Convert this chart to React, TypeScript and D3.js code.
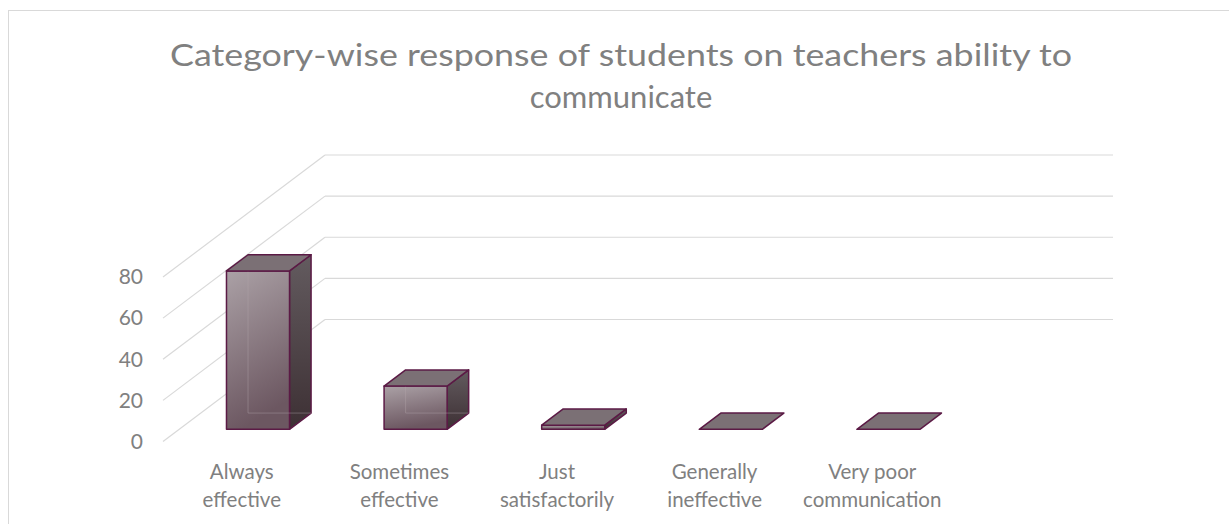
import React from "react";
import * as d3 from "d3";

const categories = ["Always effective", "Sometimes effective", "Just satisfactorily", "Generally ineffective", "Very poor communication"];
const labelLines = [["Always", "effective"], ["Sometimes", "effective"], ["Just", "satisfactorily"], ["Generally", "ineffective"], ["Very poor", "communication"]];
const values = [77, 21, 2, 0, 0];
const yTicks = [0, 20, 40, 60, 80];
const titleLines = ["Category-wise response of students on teachers ability to", "communicate"];

const W = 1229;
const H = 524;
const FONT = "Lato, 'Open Sans', sans-serif";
const TEXT = "#808080";
const GRID = "#d9d9d9";
const STROKE = "#5b1a45";

// oblique projection: depth vector from front of floor to back wall
const DX = 162;
const DY = -122;
const BAR_T0 = 0.1;
const BAR_T1 = 0.233;

export default function App() {
  const x = d3.scaleBand<string>().domain(categories).range([163, 951]).padding(0);
  const y = d3.scaleLinear().domain([0, 80]).range([441.5, 277]);
  const barW = x.bandwidth() * 0.4;

  const pt = (px: number, py: number, t: number) => [px + DX * t, py + DY * t];
  const poly = (pts: number[][]) => pts.map((p) => p.join(",")).join(" ");

  return (
    <svg width={W} height={H} style={{ position: "absolute", left: 0, top: 0, background: "#fff" }}>
      <defs>
        <linearGradient id="frontG" x1="0" y1="0" x2="0.25" y2="1">
          <stop offset="0" stopColor="#aba1a6" />
          <stop offset="1" stopColor="#6c5761" />
        </linearGradient>
        <linearGradient id="sideG" x1="0" y1="0" x2="0" y2="1">
          <stop offset="0" stopColor="#635b5f" />
          <stop offset="1" stopColor="#3d3034" />
        </linearGradient>
      </defs>
      <rect x={8.5} y={10.5} width={1300} height={600} fill="#fff" stroke={GRID} strokeWidth={1} />

      {titleLines.map((t, i) => (
        <text
          key={i}
          x={621}
          y={66 + i * 42}
          textAnchor="middle"
          fontFamily={FONT}
          fontSize={31}
          fill={TEXT}
          {...(i === 0 ? { textLength: 902, lengthAdjust: "spacingAndGlyphs" } : {})}
        >
          {t}
        </text>
      ))}

      {/* gridlines: side wall diagonals + back wall */}
      {yTicks.map((v) => {
        const x0 = 163;
        const y0 = y(v);
        const [x1, y1] = pt(x0, y0, 1);
        return (
          <g key={v}>
            <line x1={x0} y1={y0} x2={x1} y2={y1} stroke={GRID} strokeWidth={1.2} />
            <line x1={x1} y1={y1} x2={951 + DX} y2={y1} stroke={GRID} strokeWidth={1.2} />
          </g>
        );
      })}

      {/* y tick labels */}
      {yTicks.map((v) => (
        <text key={v} x={143} y={y(v)} dy="0.35em" textAnchor="end" fontFamily={FONT} fontSize={21} fill={TEXT}>
          {v}
        </text>
      ))}

      {/* bars */}
      {categories.map((c, i) => {
        const cx = (x(c) as number) + x.bandwidth() / 2;
        const lx = cx - barW / 2;
        const rx = cx + barW / 2;
        const by = y(0);
        const ty = y(values[i]);
        const fBL = pt(lx, by, BAR_T0);
        const fBR = pt(rx, by, BAR_T0);
        const fTL = pt(lx, ty, BAR_T0);
        const fTR = pt(rx, ty, BAR_T0);
        const bBL = pt(lx, by, BAR_T1);
        const bBR = pt(rx, by, BAR_T1);
        const bTL = pt(lx, ty, BAR_T1);
        const bTR = pt(rx, ty, BAR_T1);
        const h = by - ty;
        return (
          <g key={c}>
            {h > 0.5 && (
              <>
                <polygon points={poly([fBR, fTR, bTR, bBR])} fill="url(#sideG)" stroke={STROKE} strokeWidth={1.5} strokeLinejoin="round" />
                <polygon points={poly([fBL, fBR, fTR, fTL])} fill="url(#frontG)" stroke={STROKE} strokeWidth={1.5} strokeLinejoin="round" />
                {h > 10 && (
                  <g stroke="#b3a7ad" strokeOpacity={0.4} strokeWidth={1}>
                    <line x1={bBL[0]} y1={bBL[1]} x2={bTL[0]} y2={bTL[1]} />
                    <line x1={bBL[0]} y1={bBL[1]} x2={bBR[0]} y2={bBR[1]} />
                  </g>
                )}
              </>
            )}
            <polygon points={poly([fTL, fTR, bTR, bTL])} fill="#7b7075" stroke={STROKE} strokeWidth={1.5} strokeLinejoin="round" />
            {labelLines[i].map((l, j) => (
              <text key={j} x={cx} y={479 + j * 27.5} textAnchor="middle" fontFamily={FONT} fontSize={20.5} fill={TEXT}>
                {l}
              </text>
            ))}
          </g>
        );
      })}
    </svg>
  );
}
